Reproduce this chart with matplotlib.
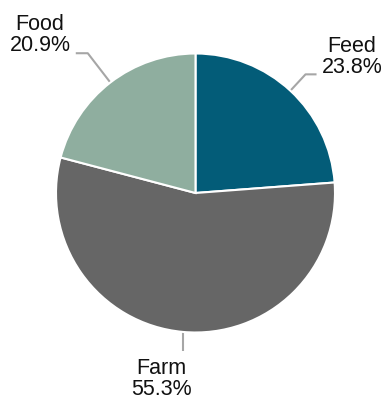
import numpy as np
import matplotlib
matplotlib.use("Agg")
import matplotlib.pyplot as plt

labels = ["Feed", "Farm", "Food"]
values = [23.8, 55.3, 20.9]
colors = ["#035c78", "#666666", "#8fae9f"]

W, H = 385, 403
fig = plt.figure(figsize=(W / 100, H / 100), dpi=100)
ax = fig.add_axes([0, 0, 1, 1])
ax.set_xlim(0, W)
ax.set_ylim(0, H)
ax.set_aspect("equal")
ax.axis("off")

cx, cy, R = 195.5, 210.0, 139.5
wedges, _ = ax.pie(values, colors=colors, startangle=90, counterclock=False,
                   radius=R, center=(cx, cy), frame=True,
                   wedgeprops=dict(edgecolor="white", linewidth=1.5))
ax.set_xlim(0, W)
ax.set_ylim(0, H)
ax.axis("off")

# leader-line styles per wedge: (elbow radius factor, horizontal extension, text pos)
styles = {
    "Feed": (1.16, 11, (352, 346)),
    "Food": (1.265, -12, (40, 368)),
    "Farm": (1.14, 0, (161, 24)),
}
plain = {"Feed": "Feed", "Food": "Food", "Farm": "Farm"}

for w, lab, v in zip(wedges, labels, values):
    ang = np.deg2rad((w.theta1 + w.theta2) / 2)
    x0, y0 = cx + R * np.cos(ang), cy + R * np.sin(ang)
    f, ext, (tx, ty) = styles[lab]
    x1, y1 = cx + R * f * np.cos(ang), cy + R * f * np.sin(ang)
    if lab == "Farm":
        xs, ys = [x0, x0], [y0, y1]
    else:
        xs, ys = [x0, x1, x1 + ext], [y0, y1, y1]
    ax.plot(xs, ys, color="#a6a6a6", lw=1.5, solid_capstyle="butt", zorder=0)
    ax.text(tx, ty, f"{lab}\n{v:.1f}%", ha="center", va="center",
            fontsize=15.5, family="Liberation Sans", color="#111111",
            linespacing=1.05)

fig.savefig("out.png", dpi=100)
